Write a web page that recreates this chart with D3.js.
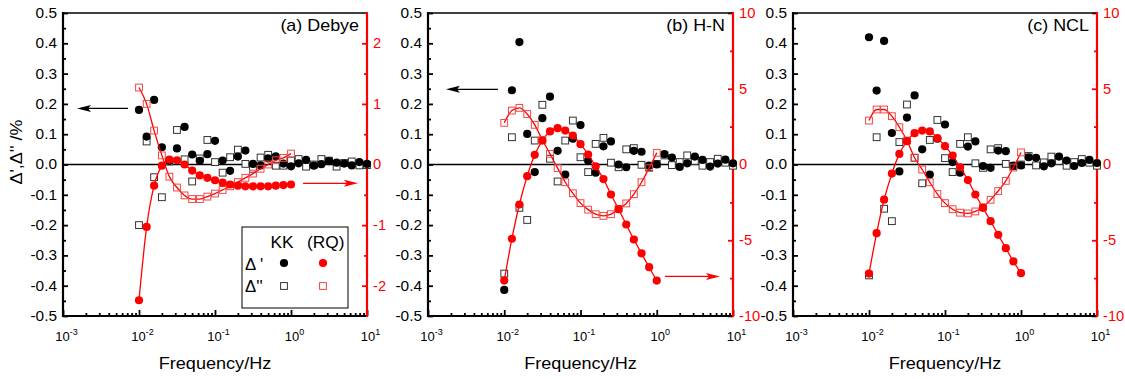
<!DOCTYPE html>
<html>
<head>
<meta charset="utf-8">
<script src="https://cdn.jsdelivr.net/npm/d3@7"></script>
<style>
  body { margin: 0; background: #fff; }
  svg { display: block; }
</style>
</head>
<body>
<div id="chart"></div>
<script>
// frequencies (Hz), 10 points per decade
const freqs = [0.01, 0.0126, 0.0158, 0.02, 0.0251, 0.0316, 0.0398, 0.0501, 0.0631, 0.0794,
  0.1, 0.126, 0.158, 0.2, 0.251, 0.316, 0.398, 0.501, 0.631, 0.794,
  1, 1.26, 1.58, 2, 2.51, 3.16, 3.98, 5.01, 6.31, 7.94, 10];

// (a) Debye
const kkReA = [0.18, 0.092, 0.213, 0.057, 0.012, 0.053, 0.124, 0.033, 0.012, 0.034, 0.078, 0.013, -0.021, 0.026, 0.046, 0.002,
  -0.003, 0.02, 0.027, 0.003, -0.006, 0.004, 0.015, -0.004, 0.001, 0.011, 0.006, 0.003, -0.003, 0.008, 0.002];
const kkImA = [-0.2, 0.076, -0.042, -0.108, 0.01, 0.114, 0.017, -0.056, 0.02, 0.081, 0.008, -0.027, 0.024, 0.049, 0.002, -0.014,
  0.023, 0.032, -0.004, -0.004, 0.013, 0.018, -0.007, 0.0, 0.018, 0.013, -0.007, 0.005, 0.01, -0.003, -0.002];
const rqReA = [-2.24, -1.03, -0.35, -0.02, 0.08, 0.07, 0.0, -0.10, -0.18, -0.22, -0.26, -0.30, -0.33, -0.35, -0.36, -0.36,
  -0.36, -0.36, -0.35, -0.34, -0.33];
const rqImA = [1.27, 1.0, 0.56, 0.15, -0.2, -0.38, -0.51, -0.57, -0.57, -0.53, -0.48, -0.42, -0.36, -0.29, -0.22, -0.15,
  -0.07, 0.0, 0.07, 0.11, 0.18];

// (b) H-N
const kkReB = [-0.414, 0.245, 0.404, 0.101, -0.025, 0.153, 0.224, 0.045, -0.033, 0.085, 0.13, 0.012, -0.027, 0.06, 0.076, 0.0,
  -0.009, 0.045, 0.042, -0.004, 0.0, 0.034, 0.023, -0.008, 0.004, 0.026, 0.015, -0.007, 0.003, 0.016, 0.004];
const kkImB = [-0.36, 0.09, -0.143, -0.183, 0.079, 0.197, 0.019, -0.056, 0.079, 0.145, 0.024, -0.025, 0.068, 0.088, 0.006, -0.009,
  0.05, 0.054, -0.001, -0.009, 0.002, 0.03, -0.002, 0.008, 0.03, 0.012, -0.004, 0.008, 0.019, 0.006, -0.004];
const rqReB = [-7.66, -4.9, -2.64, -0.77, 0.64, 1.58, 2.18, 2.4, 2.24, 1.91, 1.34, 0.66, -0.12, -0.96, -1.98, -2.95,
  -3.96, -4.95, -5.86, -6.78, -7.66];
const rqImB = [2.75, 3.56, 3.74, 3.33, 2.62, 1.62, 0.7, -0.24, -1.17, -1.9, -2.55, -2.98, -3.28, -3.39, -3.28, -2.93,
  -2.57, -1.96, -1.17, -0.24, 0.77];

// (c) NCL
const kkReC = [0.42, 0.244, 0.408, 0.104, -0.023, 0.155, 0.228, 0.05, -0.033, 0.085, 0.132, 0.008, -0.027, 0.059, 0.076, -0.005,
  -0.011, 0.046, 0.044, -0.004, -0.003, 0.024, 0.022, -0.006, 0.004, 0.026, 0.013, -0.005, 0.005, 0.015, 0.005];
const kkImC = [-0.366, 0.09, -0.146, -0.187, 0.074, 0.198, 0.022, -0.062, 0.081, 0.147, 0.021, -0.025, 0.068, 0.09, 0.004, -0.011,
  0.05, 0.054, 0.002, -0.005, 0.0, 0.028, -0.003, 0.007, 0.026, 0.012, -0.004, 0.008, 0.018, 0.006, -0.004];
const rqReC = [-7.2, -4.53, -2.32, -0.6, 0.7, 1.54, 2.07, 2.24, 2.18, 1.74, 1.21, 0.59, -0.18, -1.03, -1.98, -2.86,
  -3.74, -4.64, -5.52, -6.4, -7.17];
const rqImC = [2.9, 3.63, 3.63, 3.19, 2.46, 1.58, 0.45, -0.33, -1.17, -1.95, -2.55, -2.95, -3.18, -3.23, -3.1, -2.82,
  -2.33, -1.75, -1.08, -0.2, 0.8];

// tick labels
const xMajor = [0.001, 0.01, 0.1, 1, 10];
const xExp = ['-3', '-2', '-1', '0', '1'];
const leftTicks = [-0.5, -0.4, -0.3, -0.2, -0.1, 0, 0.1, 0.2, 0.3, 0.4, 0.5];
const leftMinor = [-0.45, -0.35, -0.25, -0.15, -0.05, 0.05, 0.15, 0.25, 0.35, 0.45];

const FONT = '"Liberation Sans", Arial, Helvetica, sans-serif';
const RED = '#ff0000';
const W = 1125, H = 379;
const plotTop = 13, plotBottom = 316;
const SX = 1.12; // the original text is a little wide

const panels = [
  { label: '(a) Debye', left: 63, right: 367, rDomain: [-2.5, 2.5],
    rTicks: [-2, -1, 0, 1, 2], rMinor: [-1.5, -0.5, 0.5, 1.5],
    kkRe: kkReA, kkIm: kkImA, rqRe: rqReA, rqIm: rqImA,
    arrows: [{ from: [0.00716, 0.185], to: [0.00153, 0.185], axis: 'L' },
             { from: [1.44, -0.31], to: [7.6, -0.31], axis: 'R' }],
    legend: true },
  { label: '(b) H-N', left: 428, right: 733, rDomain: [-10, 10],
    rTicks: [-10, -5, 0, 5, 10], rMinor: [-7.5, -2.5, 2.5, 7.5],
    kkRe: kkReB, kkIm: kkImB, rqRe: rqReB, rqIm: rqImB,
    arrows: [{ from: [0.00828, 0.248], to: [0.00172, 0.248], axis: 'L' },
             { from: [1.28, -7.39], to: [6.75, -7.39], axis: 'R' }] },
  { label: '(c) NCL', left: 793, right: 1097, rDomain: [-10, 10],
    rTicks: [-10, -5, 0, 5, 10], rMinor: [-7.5, -2.5, 2.5, 7.5],
    kkRe: kkReC, kkIm: kkImC, rqRe: rqReC, rqIm: rqImC, arrows: [] }
];

const fmtL = v => d3.format('.1f')(v).replace('\u2212', '-');
const fmtR = v => String(v);

// widen text horizontally around its anchor point
function stretch(sel, s) {
  sel.each(function () {
    const t = d3.select(this);
    const x = +t.attr('x') || 0, y = +t.attr('y') || 0;
    t.attr('x', null).attr('y', null)
      .attr('transform', `translate(${x},${y}) scale(${s},1)`);
  });
  return sel;
}

const svg = d3.select('#chart').append('svg')
  .attr('width', W).attr('height', H)
  .style('font-family', FONT);

svg.append('rect').attr('width', W).attr('height', H).attr('fill', '#fff');

// y axis title
svg.append('text')
  .attr('transform', `translate(22,152) rotate(-90) scale(${SX},1)`)
  .attr('text-anchor', 'middle')
  .attr('font-size', 16)
  .text("\u0394',\u0394'' /%");

function arrow(g, x1, y1, x2, y2, color) {
  const ang = Math.atan2(y2 - y1, x2 - x1);
  const L = 14, hw = 3.5, notch = 3;
  g.append('line')
    .attr('x1', x1).attr('y1', y1)
    .attr('x2', x2 - Math.cos(ang) * 4).attr('y2', y2 - Math.sin(ang) * 4)
    .attr('stroke', color).attr('stroke-width', 1.3);
  const pts = [[0, 0], [-L, -hw], [-L + notch, 0], [-L, hw]];
  g.append('path')
    .attr('d', d3.line()(pts) + 'Z')
    .attr('transform', `translate(${x2},${y2}) rotate(${ang * 180 / Math.PI})`)
    .attr('fill', color);
}

panels.forEach(p => {
  const g = svg.append('g');
  const x = d3.scaleLog().domain([1e-3, 10]).range([p.left, p.right]);
  const yL = d3.scaleLinear().domain([-0.5, 0.5]).range([plotBottom, plotTop]);
  const yR = d3.scaleLinear().domain(p.rDomain).range([plotBottom, plotTop]);

  // zero line
  g.append('line')
    .attr('x1', p.left).attr('x2', p.right)
    .attr('y1', yL(0)).attr('y2', yL(0))
    .attr('stroke', '#000').attr('stroke-width', 1.6);

  // left axis
  const gl = g.append('g').attr('transform', `translate(${p.left},0)`);
  gl.call(d3.axisLeft(yL).tickValues(leftTicks).tickSizeInner(-5).tickSizeOuter(0)
    .tickPadding(6).tickFormat(fmtL));
  gl.append('g').call(d3.axisLeft(yL).tickValues(leftMinor).tickSizeInner(-3).tickSizeOuter(0).tickFormat(''));
  gl.selectAll('.domain').remove();
  gl.selectAll('line').attr('stroke', '#000').attr('stroke-width', 1.8);
  stretch(gl.selectAll('text').attr('font-size', 14).attr('font-family', FONT).attr('fill', '#000'), 1.1);

  // right axis
  const gr = g.append('g').attr('transform', `translate(${p.right},0)`);
  gr.call(d3.axisRight(yR).tickValues(p.rTicks).tickSizeInner(-5).tickSizeOuter(0)
    .tickPadding(6).tickFormat(fmtR));
  gr.append('g').call(d3.axisRight(yR).tickValues(p.rMinor).tickSizeInner(-3).tickSizeOuter(0).tickFormat(''));
  gr.selectAll('.domain').remove();
  gr.selectAll('line').attr('stroke', RED).attr('stroke-width', 1.8);
  stretch(gr.selectAll('text').attr('font-size', 14).attr('font-family', FONT).attr('fill', RED), 1.05);

  // bottom axis
  const xMinor = x.ticks().filter(v => !xMajor.some(m => Math.abs(m - v) / m < 1e-6));
  const gb = g.append('g').attr('transform', `translate(0,${plotBottom})`);
  gb.call(d3.axisBottom(x).tickValues(xMajor).tickSizeInner(-6).tickSizeOuter(0).tickPadding(12).tickFormat(''));
  gb.append('g').call(d3.axisBottom(x).tickValues(xMinor).tickSizeInner(-3).tickSizeOuter(0).tickFormat(''));
  gb.selectAll('.domain').remove();
  gb.selectAll('line').attr('stroke', '#000').attr('stroke-width', 1.8);
  gb.selectAll(':scope > .tick text').each(function (d, i) {
    const t = d3.select(this).attr('font-size', 13).attr('font-family', FONT).attr('fill', '#000')
      .attr('x', 3).attr('dy', '1.0em');
    t.append('tspan').text('10');
    t.append('tspan').attr('font-size', 9).attr('dy', -6).text(xExp[i]);
  });

  // frame
  g.append('line').attr('x1', p.left).attr('x2', p.right).attr('y1', plotTop).attr('y2', plotTop)
    .attr('stroke', '#000').attr('stroke-width', 1.6);
  g.append('line').attr('x1', p.left - 1).attr('x2', p.right).attr('y1', plotBottom).attr('y2', plotBottom)
    .attr('stroke', '#000').attr('stroke-width', 2.2);
  g.append('line').attr('x1', p.left).attr('x2', p.left).attr('y1', plotTop - 1).attr('y2', plotBottom + 1)
    .attr('stroke', '#000').attr('stroke-width', 2.2);
  g.append('line').attr('x1', p.right).attr('x2', p.right).attr('y1', plotTop - 1).attr('y2', plotBottom + 1)
    .attr('stroke', RED).attr('stroke-width', 2.2);

  // x title
  stretch(g.append('text')
    .attr('x', (p.left + p.right) / 2).attr('y', 369)
    .attr('text-anchor', 'middle').attr('font-size', 16)
    .text('Frequency/Hz'), 1.13);

  // panel label
  stretch(g.append('text')
    .attr('x', p.right - 8).attr('y', 31)
    .attr('text-anchor', 'end').attr('font-size', 16)
    .text(p.label), 1.12);

  const kkRe = freqs.map((f, i) => ({ f, v: p.kkRe[i] }));
  const kkIm = freqs.map((f, i) => ({ f, v: p.kkIm[i] }));
  const rqRe = p.rqRe.map((v, i) => ({ f: freqs[i], v }));
  const rqIm = p.rqIm.map((v, i) => ({ f: freqs[i], v }));

  // KK markers
  g.append('g').selectAll('rect').data(kkIm).join('rect')
    .attr('x', d => x(d.f) - 3.4).attr('y', d => yL(d.v) - 3.4)
    .attr('width', 6.8).attr('height', 6.8)
    .attr('fill', '#fff').attr('stroke', '#333').attr('stroke-width', 1);
  g.append('g').selectAll('circle').data(kkRe).join('circle')
    .attr('cx', d => x(d.f)).attr('cy', d => yL(d.v)).attr('r', 4.1)
    .attr('fill', '#000');

  // RQ lines + markers
  const lineR = d3.line().x(d => x(d.f)).y(d => yR(d.v)).curve(d3.curveMonotoneX);
  g.append('path').datum(rqIm).attr('d', lineR)
    .attr('fill', 'none').attr('stroke', RED).attr('stroke-width', 1.3);
  g.append('path').datum(rqRe).attr('d', lineR)
    .attr('fill', 'none').attr('stroke', RED).attr('stroke-width', 1.3);
  g.append('g').selectAll('rect').data(rqIm).join('rect')
    .attr('x', d => x(d.f) - 3.4).attr('y', d => yR(d.v) - 3.4)
    .attr('width', 6.8).attr('height', 6.8)
    .attr('fill', 'none').attr('stroke', '#f04848').attr('stroke-width', 1);
  g.append('g').selectAll('circle').data(rqRe).join('circle')
    .attr('cx', d => x(d.f)).attr('cy', d => yR(d.v)).attr('r', 4.1)
    .attr('fill', RED);

  // arrows
  p.arrows.forEach(a => {
    const ys = a.axis === 'L' ? yL : yR;
    const col = a.axis === 'L' ? '#000' : RED;
    arrow(g, x(a.from[0]), ys(a.from[1]), x(a.to[0]), ys(a.to[1]), col);
  });

  // legend
  if (p.legend) {
    const lg = g.append('g');
    lg.append('rect').attr('x', 242).attr('y', 227).attr('width', 106).attr('height', 81)
      .attr('fill', '#fff').attr('stroke', '#000').attr('stroke-width', 1);
    stretch(lg.append('text').attr('x', 282).attr('y', 248).attr('text-anchor', 'middle')
      .attr('font-size', 16).text('KK'), 1.08);
    stretch(lg.append('text').attr('x', 307).attr('y', 248).attr('font-size', 16).text('(RQ)'), 1.08);
    stretch(lg.append('text').attr('x', 245).attr('y', 270).attr('font-size', 16).text("\u0394 '"), 1.05);
    stretch(lg.append('text').attr('x', 245).attr('y', 292).attr('font-size', 16).text("\u0394''"), 1.05);
    lg.append('circle').attr('cx', 284).attr('cy', 263).attr('r', 4.1).attr('fill', '#000');
    lg.append('circle').attr('cx', 323).attr('cy', 263).attr('r', 4.1).attr('fill', RED);
    lg.append('rect').attr('x', 284 - 3.4).attr('y', 286 - 3.4).attr('width', 6.8).attr('height', 6.8)
      .attr('fill', 'none').attr('stroke', '#333');
    lg.append('rect').attr('x', 323 - 3.4).attr('y', 286 - 3.4).attr('width', 6.8).attr('height', 6.8)
      .attr('fill', 'none').attr('stroke', '#f04848');
  }
});
</script>
</body>
</html>
